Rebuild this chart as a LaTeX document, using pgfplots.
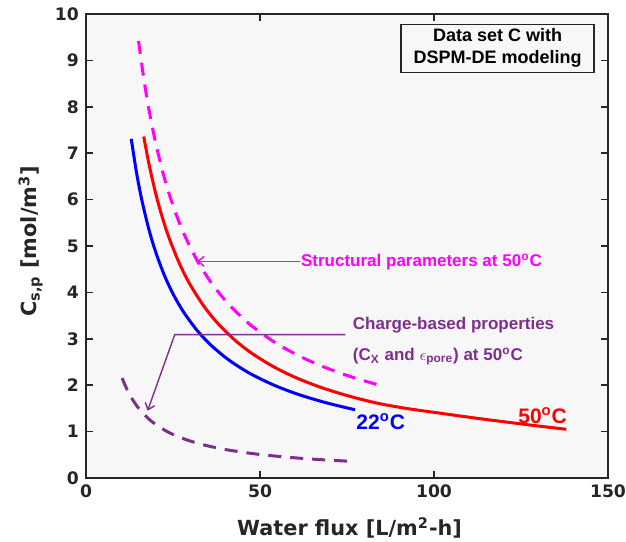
\documentclass[border=0pt]{standalone}
\usepackage{pgfplots}
\pgfplotsset{compat=1.18}
\usepackage{fontspec}
\setmainfont{DejaVu Sans}
\newfontfamily\lib{Liberation Sans}
\usetikzlibrary{arrows.meta}
\definecolor{mpurple}{rgb}{0.494,0.184,0.556}
\definecolor{mmag}{RGB}{255,0,255}
\definecolor{mblue}{RGB}{0,0,255}
\definecolor{mred}{RGB}{255,0,0}
\definecolor{axgray}{RGB}{38,38,38}
\definecolor{bg}{RGB}{247,247,247}
\begin{document}
\begin{tikzpicture}
\useasboundingbox (-43pt,-31.5pt) rectangle (270pt,239pt);
\begin{axis}[
  at={(0,0)}, anchor=south west,
  scale only axis, width=261pt, height=232pt,
  xmin=0, xmax=150, ymin=0, ymax=10,
  xtick={0,50,100,150}, ytick={0,1,2,3,4,5,6,7,8,9,10},
  tick align=inside, major tick length=3.5pt,
  axis line style={axgray, line width=1pt},
  tick style={axgray, line width=0.8pt},
  axis background/.style={fill=bg},
  /pgf/number format/assume math mode=true,
  ticklabel style={font=\fontsize{8.6}{10}\selectfont\bfseries, text=axgray},
  xlabel={Water flux [L/m\textsuperscript{2}-h]},
  ylabel={C\textsubscript{s,p} [mol/m\textsuperscript{3}]},
  label style={font=\fontsize{10.4}{12}\selectfont\bfseries, text=axgray},
  xlabel style={at={(axis description cs:0.505,-0.108)}, anchor=center},
  ylabel style={at={(axis description cs:-0.106,0.51)}, anchor=center},
  clip=true,
]
% 22 C (blue)
\addplot[mblue, line width=1.5pt, smooth] coordinates {
(13,7.31)(14.5,6.590)(16,6.006)(18,5.378)(20,4.876)(22.5,4.373)(25,3.970)(28,3.581)(32,3.174)(36,2.857)(41,2.546)(47,2.258)(54,2.002)(61,1.802)(69,1.622)(77.3,1.471)};
% 50 C (red)
\addplot[mred, line width=1.5pt, smooth] coordinates {
(16.6,7.36)(18,6.801)(20,6.14)(22,5.599)(24,5.148)(27,4.597)(30,4.157)(34,3.690)(38,3.322)(43,2.957)(48,2.669)(54,2.394)(60,2.173)(67,1.966)(75,1.777)(83.5,1.616)(92,1.50)(102.4,1.39)(112,1.29)(121.4,1.20)(130,1.12)(138,1.05)};
% structural parameters at 50 C (magenta dashed)
\addplot[mmag, line width=1.5pt, smooth, dash pattern=on 6.5pt off 4.5pt] coordinates {
(15.1,9.42)(16.5,8.662)(18,7.978)(20,7.226)(22.5,6.473)(25,5.870)(28,5.288)(31.9,4.694)(36,4.207)(41,3.743)(47,3.316)(54,2.935)(61,2.640)(68,2.404)(76,2.185)(83.5,2.017)};
% charge-based properties at 50 C (purple dashed)
\addplot[mpurple, line width=1.5pt, smooth, dash pattern=on 6.5pt off 4.5pt] coordinates {
(10.4,2.152)(11.5,1.953)(13,1.737)(14.5,1.565)(16,1.425)(18,1.275)(20,1.155)(23,1.014)(26,0.906)(30,0.795)(35,0.692)(41,0.602)(48,0.525)(56,0.461)(65,0.407)(77.4,0.354)};

% annotations
\draw[mmag, line width=0.7pt, -{Straight Barb[length=3pt,width=5pt]}] (axis cs:61.5,4.67) -- (axis cs:31.9,4.67);
\node[anchor=west, inner sep=0pt, text=mmag, font=\lib\bfseries\fontsize{8.5}{10}\selectfont] at (axis cs:61.7,4.65) {Structural parameters at 50\textsuperscript{o}C};

\draw[mpurple, line width=0.7pt, -{Straight Barb[length=3pt,width=5pt]}] (axis cs:74.5,3.09) -- (axis cs:25.5,3.09) -- (axis cs:17.7,1.45);
\node[anchor=base west, inner sep=0pt, text=mpurple, font=\lib\bfseries\fontsize{8.5}{10}\selectfont] at (axis cs:76.6,3.20) {Charge-based properties};
\node[anchor=base west, inner sep=0pt, text=mpurple, font=\lib\bfseries\fontsize{8.5}{10}\selectfont] at (axis cs:76.6,2.53) {(C\textsubscript{X} and {\mdseries$\epsilon$}\textsubscript{pore}) at 50\textsuperscript{o}C};

\node[anchor=base west, inner sep=0pt, text=mblue, font=\lib\bfseries\fontsize{10.5}{12}\selectfont] at (axis cs:77.6,1.05) {22\textsuperscript{o}C};
\node[anchor=base east, inner sep=0pt, text=mred, font=\lib\bfseries\fontsize{10.5}{12}\selectfont] at (axis cs:138.3,1.17) {50\textsuperscript{o}C};

\node[draw=axgray, line width=0.8pt, fill=bg, align=center, inner sep=0pt, minimum width=96.5pt, minimum height=24pt, text=black, font=\lib\bfseries\fontsize{9}{11}\selectfont] at (axis cs:118.3,9.26) {Data set C with\\DSPM-DE modeling};
\end{axis}
\end{tikzpicture}
\end{document}
